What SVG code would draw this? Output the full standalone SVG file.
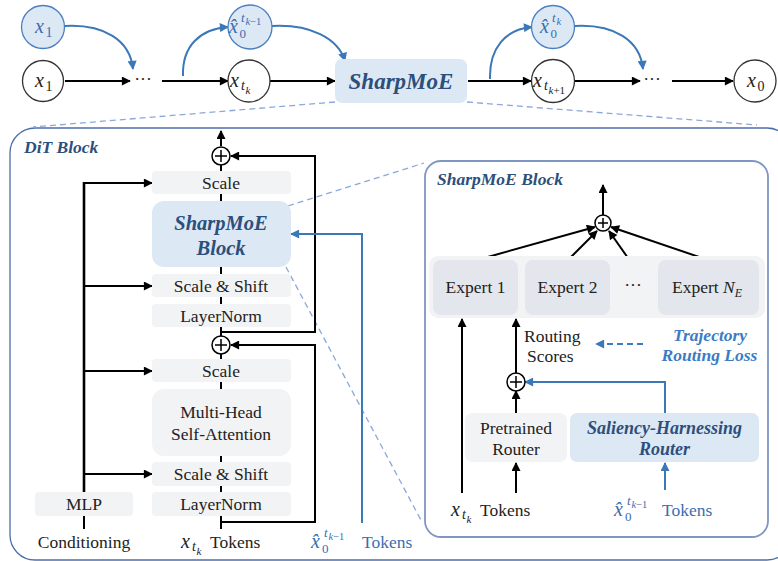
<svg xmlns="http://www.w3.org/2000/svg" width="778" height="561" viewBox="0 0 778 561">
  <defs>
    <marker id="ah" viewBox="0 0 10 10" refX="9" refY="5" markerUnits="userSpaceOnUse" markerWidth="10" markerHeight="9" orient="auto">
      <path d="M0,0 L10,5 L0,10 z" fill="#000"/>
    </marker>
    <marker id="ahb" viewBox="0 0 10 10" refX="9" refY="5" markerUnits="userSpaceOnUse" markerWidth="10" markerHeight="9" orient="auto">
      <path d="M0,0 L10,5 L0,10 z" fill="#3a78b8"/>
    </marker>
    <style>
      .t { font-family: "Liberation Serif", "Times New Roman", serif; font-size: 17.5px; fill: #222; }
      .m { font-family: "Liberation Serif", "Times New Roman", serif; font-style: italic; fill: #222; }
      .bi { font-family: "Liberation Serif", "Times New Roman", serif; font-style: italic; font-weight: bold; fill: #2c4f7c; }
      .blue { fill: #3a6db0; }
      .c { stroke: #000; stroke-width: 2; fill: none; }
      .cb { stroke: #3a78b8; stroke-width: 2; fill: none; }
      .dash { stroke: #8aa8dc; stroke-width: 1.3; fill: none; stroke-dasharray: 6 4; }
      .grey { fill: #f2f3f5; }
      .lb { fill: #dde8f5; }
      .node { fill: #fff; stroke: #333; stroke-width: 1.3; }
      .nodeb { fill: #dde8f5; stroke: #4a7fc0; stroke-width: 1.3; }
      .plus { fill: #fff; stroke: #000; stroke-width: 1.5; }
    </style>
  </defs>

  <!-- frames -->
  <g id="frames">
    <rect x="10" y="128" width="782" height="432" rx="25" fill="none" stroke="#4d6ea8" stroke-width="1.3"/>
    <rect x="425" y="161" width="343" height="376" rx="16" fill="#fff" stroke="#8096c2" stroke-width="1.8"/>
    <text class="bi" x="24" y="153" font-size="17.5">DiT Block</text>
    <text class="bi" x="437" y="185" font-size="17.5">SharpMoE Block</text>
  </g>

  <!-- zoom guides -->
  <g id="guides">
    <line class="dash" x1="335" y1="102" x2="33" y2="127"/>
    <line class="dash" x1="467" y1="102" x2="757" y2="125"/>
    <line class="dash" x1="288" y1="206" x2="424" y2="163"/>
    <line class="dash" x1="286" y1="267" x2="422" y2="522"/>
  </g>

  <!-- connectors -->
  <g id="connectors">
    <!-- sampling trajectory -->
    <path class="c" d="M65,81 H130" marker-end="url(#ah)"/>
    <path class="c" d="M162,81 H228" marker-end="url(#ah)"/>
    <path class="c" d="M270,81 H335" marker-end="url(#ah)"/>
    <path class="c" d="M468,81 H531" marker-end="url(#ah)"/>
    <path class="c" d="M575,81 H640" marker-end="url(#ah)"/>
    <path class="c" d="M672,81 H733" marker-end="url(#ah)"/>
    <path class="cb" d="M65,26 C104,24 130,40 133,69" marker-end="url(#ahb)"/>
    <path class="cb" d="M183,76 C182,46 200,29 228,27" marker-end="url(#ahb)"/>
    <path class="cb" d="M272,26 C310,24 338,38 345,61" marker-end="url(#ahb)"/>
    <path class="cb" d="M490,79 C489,48 506,29 532,27" marker-end="url(#ahb)"/>
    <path class="cb" d="M575,26 C614,24 640,40 643,69" marker-end="url(#ahb)"/>

    <!-- DiT block main path -->
    <path class="c" d="M221,146 V131" marker-end="url(#ah)"/>
    <path class="c" d="M221,165 V529"/>
    <path class="c" d="M221,332 H315 V156 H231" marker-end="url(#ah)"/>
    <path class="c" d="M221,522 H315 V345 H231" marker-end="url(#ah)"/>
    <!-- conditioning -->
    <path d="M84,492 V182" stroke="#000" stroke-width="2.6" fill="none"/>
    <path class="c" d="M84,516 V529"/>
    <path class="c" d="M84,183 H152" marker-end="url(#ah)"/>
    <path class="c" d="M84,286 H152" marker-end="url(#ah)"/>
    <path class="c" d="M84,371 H152" marker-end="url(#ah)"/>
    <path class="c" d="M84,474 H152" marker-end="url(#ah)"/>
    <!-- clean-estimate tokens -->
    <path class="cb" d="M362,523 V234 H291" marker-end="url(#ahb)"/>

    <!-- SharpMoE block -->
    <path class="c" d="M603,215 V185" marker-end="url(#ah)"/>
    <path class="c" d="M477,260 L595,227" marker-end="url(#ah)"/>
    <path class="c" d="M568,260 L597,231" marker-end="url(#ah)"/>
    <path class="c" d="M628,258 L609,231" marker-end="url(#ah)"/>
    <path class="c" d="M708,260 L611,227" marker-end="url(#ah)"/>
    <path class="c" d="M462,493 V319" marker-end="url(#ah)"/>
    <path class="c" d="M516,373 V319" marker-end="url(#ah)"/>
    <path class="c" d="M516,413 V391" marker-end="url(#ah)"/>
    <path class="c" d="M516,493 V463" marker-end="url(#ah)"/>
    <path class="cb" d="M665,413 V382 H525" marker-end="url(#ahb)"/>
    <path class="cb" d="M665,490 V463" marker-end="url(#ahb)"/>
    <path d="M643,344 H596" stroke="#3b7bc4" stroke-width="2" stroke-dasharray="6 4" fill="none" marker-end="url(#ahb)"/>
  </g>

  <!-- trajectory nodes -->
  <g id="n-x1-hat">
    <circle class="nodeb" cx="43" cy="27" r="21.5"/>
    <text class="m" style="fill:#3a6db0"><tspan x="35" y="33" font-size="20">x</tspan><tspan x="45.5" y="37" font-size="14" font-style="normal">1</tspan></text>
  </g>
  <g id="n-x1">
    <circle class="node" cx="43" cy="81" r="20.5"/>
    <text class="m"><tspan x="35" y="87" font-size="20">x</tspan><tspan x="45.5" y="91" font-size="14" font-style="normal">1</tspan></text>
  </g>
  <text class="t" x="143" y="85" text-anchor="middle">···</text>
  <g id="n-x0hat-prev">
    <circle class="nodeb" cx="250" cy="27" r="22"/>
    <text class="m" style="fill:#3a6db0"><tspan x="229" y="33" font-size="20">x̂</tspan><tspan x="239.5" y="38" font-size="13" font-style="normal">0</tspan><tspan x="241" y="22" font-size="13">t</tspan><tspan x="245.5" y="25" font-size="10.5">k</tspan><tspan font-size="10.5" font-style="normal">−1</tspan></text>
  </g>
  <g id="n-xtk">
    <circle class="node" cx="249" cy="81" r="21"/>
    <text class="m"><tspan x="230" y="87" font-size="20">x</tspan><tspan x="241" y="90" font-size="14">t</tspan><tspan x="245.5" y="94" font-size="11">k</tspan></text>
  </g>
  <g id="n-sharpmoe">
    <rect class="lb" x="335" y="59" width="132" height="44" rx="7"/>
    <text class="bi" x="401" y="89" font-size="23" text-anchor="middle">SharpMoE</text>
  </g>
  <g id="n-x0hat-cur">
    <circle class="nodeb" cx="553" cy="27" r="21.5"/>
    <text class="m" style="fill:#3a6db0"><tspan x="540" y="33" font-size="20">x̂</tspan><tspan x="550.5" y="38" font-size="13" font-style="normal">0</tspan><tspan x="552" y="22" font-size="13">t</tspan><tspan x="556.5" y="25" font-size="10.5">k</tspan></text>
  </g>
  <g id="n-xtk1">
    <circle class="node" cx="553" cy="81" r="21.5"/>
    <text class="m"><tspan x="533" y="87" font-size="20">x</tspan><tspan x="544" y="90" font-size="14">t</tspan><tspan x="548.5" y="94" font-size="11">k</tspan><tspan font-size="11" font-style="normal">+1</tspan></text>
  </g>
  <text class="t" x="652" y="85" text-anchor="middle">···</text>
  <g id="n-x0">
    <circle class="node" cx="755" cy="81" r="21"/>
    <text class="m"><tspan x="747" y="87" font-size="20">x</tspan><tspan x="757.5" y="91" font-size="14" font-style="normal">0</tspan></text>
  </g>

  <!-- DiT block nodes -->
  <g id="n-add1">
    <circle class="plus" cx="221" cy="156" r="9"/>
    <path d="M215,156 H227 M221,150 V162" stroke="#000" stroke-width="1.5"/>
  </g>
  <g id="n-scale1">
    <rect class="grey" x="152" y="171" width="139" height="23" rx="4"/>
    <text class="t" x="221" y="188.5" text-anchor="middle">Scale</text>
  </g>
  <g id="n-moe-block">
    <rect class="lb" x="152" y="201" width="139" height="66" rx="12"/>
    <text class="bi" x="221" y="230" font-size="20.5" text-anchor="middle">SharpMoE</text>
    <text class="bi" x="221" y="254.5" font-size="20.5" text-anchor="middle">Block</text>
  </g>
  <g id="n-scaleshift1">
    <rect class="grey" x="152" y="274" width="139" height="23" rx="4"/>
    <text class="t" x="221" y="291.5" text-anchor="middle">Scale &amp; Shift</text>
  </g>
  <g id="n-ln1">
    <rect class="grey" x="152" y="304" width="139" height="23" rx="4"/>
    <text class="t" x="221" y="321.5" text-anchor="middle">LayerNorm</text>
  </g>
  <g id="n-add2">
    <circle class="plus" cx="221" cy="345" r="9"/>
    <path d="M215,345 H227 M221,339 V351" stroke="#000" stroke-width="1.5"/>
  </g>
  <g id="n-scale2">
    <rect class="grey" x="152" y="359" width="139" height="23" rx="4"/>
    <text class="t" x="221" y="376.5" text-anchor="middle">Scale</text>
  </g>
  <g id="n-attn">
    <rect class="grey" x="152" y="389" width="139" height="67" rx="12"/>
    <text class="t" x="221" y="418" text-anchor="middle">Multi-Head</text>
    <text class="t" x="221" y="440" text-anchor="middle">Self-Attention</text>
  </g>
  <g id="n-scaleshift2">
    <rect class="grey" x="152" y="462" width="139" height="24" rx="4"/>
    <text class="t" x="221" y="480" text-anchor="middle">Scale &amp; Shift</text>
  </g>
  <g id="n-ln2">
    <rect class="grey" x="152" y="492" width="139" height="24" rx="4"/>
    <text class="t" x="221" y="510" text-anchor="middle">LayerNorm</text>
  </g>
  <g id="n-mlp">
    <rect class="grey" x="35" y="492" width="98" height="24" rx="4"/>
    <text class="t" x="84" y="510" text-anchor="middle">MLP</text>
  </g>
  <g id="n-cond">
    <text class="t" x="84" y="548" text-anchor="middle">Conditioning</text>
  </g>
  <g id="n-tokens">
    <text class="m"><tspan x="181" y="548" font-size="20">x</tspan><tspan x="192" y="551" font-size="14">t</tspan><tspan x="196.5" y="555" font-size="11">k</tspan></text>
    <text class="t" x="210" y="548">Tokens</text>
  </g>
  <g id="n-hat-tokens">
    <text class="m" style="fill:#3a6db0"><tspan x="311" y="548" font-size="20">x̂</tspan><tspan x="322" y="553" font-size="13" font-style="normal">0</tspan><tspan x="324" y="537" font-size="13">t</tspan><tspan x="328.5" y="540" font-size="10.5">k</tspan><tspan font-size="10.5" font-style="normal">−1</tspan></text>
    <text class="t blue" x="362" y="548">Tokens</text>
  </g>

  <!-- SharpMoE block nodes -->
  <g id="n-add3">
    <circle class="plus" cx="603" cy="223" r="8"/>
    <path d="M598,223 H608 M603,218 V228" stroke="#000" stroke-width="1.5"/>
  </g>
  <g id="n-experts">
    <rect class="grey" x="429" y="256" width="336" height="62" rx="9"/>
    <rect x="433" y="260" width="85" height="55" rx="8" fill="#e3e6ec"/>
    <rect x="525" y="260" width="85" height="55" rx="8" fill="#e3e6ec"/>
    <rect x="658" y="260" width="101" height="55" rx="8" fill="#e3e6ec"/>
    <text class="t" x="475.5" y="293" text-anchor="middle">Expert 1</text>
    <text class="t" x="567.5" y="293" text-anchor="middle">Expert 2</text>
    <text class="t" x="633" y="291" text-anchor="middle">···</text>
    <text class="t" x="672" y="293">Expert <tspan font-style="italic">N</tspan><tspan font-style="italic" font-size="12" dy="4">E</tspan></text>
  </g>
  <g id="n-scores">
    <text class="t" x="524" y="342">Routing</text>
    <text class="t" x="527" y="362">Scores</text>
  </g>
  <g id="n-loss">
    <text class="bi" x="710" y="341" font-size="17.5" text-anchor="middle" style="fill:#3b7bc4">Trajectory</text>
    <text class="bi" x="709.5" y="361" font-size="17.5" text-anchor="middle" style="fill:#3b7bc4">Routing Loss</text>
  </g>
  <g id="n-add4">
    <circle class="plus" cx="516" cy="382" r="9"/>
    <path d="M510,382 H522 M516,376 V388" stroke="#000" stroke-width="1.5"/>
  </g>
  <g id="n-pre-router">
    <rect class="grey" x="465" y="413" width="102" height="49" rx="7"/>
    <text class="t" x="516" y="434" text-anchor="middle">Pretrained</text>
    <text class="t" x="516" y="455" text-anchor="middle">Router</text>
  </g>
  <g id="n-sal-router">
    <rect class="lb" x="570" y="413" width="189" height="49" rx="7"/>
    <text class="bi" x="664.5" y="434" font-size="18" text-anchor="middle">Saliency-Harnessing</text>
    <text class="bi" x="664.5" y="455" font-size="18" text-anchor="middle">Router</text>
  </g>
  <g id="n-in-tokens">
    <text class="m"><tspan x="451" y="516" font-size="20">x</tspan><tspan x="462" y="519" font-size="14">t</tspan><tspan x="466.5" y="523" font-size="11">k</tspan></text>
    <text class="t" x="480" y="516">Tokens</text>
  </g>
  <g id="n-in-hat-tokens">
    <text class="m" style="fill:#3a6db0"><tspan x="614" y="516" font-size="20">x̂</tspan><tspan x="625" y="521" font-size="13" font-style="normal">0</tspan><tspan x="627" y="505" font-size="13">t</tspan><tspan x="631.5" y="508" font-size="10.5">k</tspan><tspan font-size="10.5" font-style="normal">−1</tspan></text>
    <text class="t blue" x="662" y="516">Tokens</text>
  </g>
</svg>
